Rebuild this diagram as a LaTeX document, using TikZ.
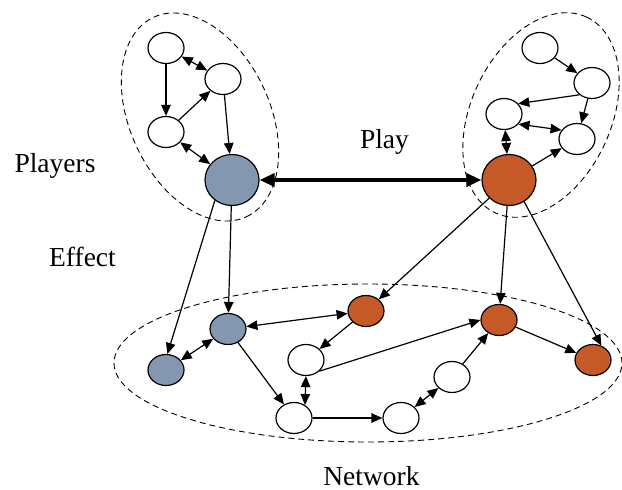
\documentclass[tikz,border=0pt]{standalone}
\usepackage{fontspec}
\setmainfont{Liberation Serif}
\usetikzlibrary{positioning, shapes.geometric, arrows.meta}
\tikzset{
    Agent/.style = {ellipse, draw, line width=1.2pt, fill=white,
        minimum width=36pt, minimum height=31pt, inner sep=0pt},
    Player/.style = {Agent, minimum width=54pt, minimum height=51pt},
    Group/.style = {ellipse, draw, line width=0.9pt,
        dash pattern=on 6pt off 4pt, inner sep=0pt},
    Arrow/.style = {line width=1.2pt, -{Triangle[length=11pt, width=9.5pt]}},
    Both/.style = {Arrow,
        {Triangle[length=11pt, width=9.5pt]}-{Triangle[length=11pt, width=9.5pt]}},
    PlayArrow/.style = {line width=3.5pt,
        {Triangle[length=15pt, width=13pt]}-{Triangle[length=15pt, width=13pt]}},
    Label/.style = {font=\fontsize{27.5pt}{33pt}\selectfont, anchor=base, inner sep=0pt}
}
\definecolor{bFill}{HTML}{8497B0}
\definecolor{oFill}{HTML}{C55A28}

\begin{document}
\begin{tikzpicture}[x=1pt, y=-1pt, on grid]
    \useasboundingbox (0,0) rectangle (622,490);
    % dashed groups
    \node [Group, minimum width=220pt, minimum height=140pt, rotate=-65] (GL) at (200,117) {};
    \node [Group, minimum width=216pt, minimum height=140pt, rotate=65] (GR) at (541,115) {};
    \node [Group, minimum width=508pt, minimum height=158pt] (GN) at (368,363) {};
    % players
    \node [Player, fill=bFill] (B1) at (232,180) {};
    \node [Agent, above left=48pt and 66pt of B1] (L3) {};
    \node [Agent, above=84pt of L3] (L1) {};
    \node [Agent, below right=31pt and 57pt of L1] (L2) {};
    \node [Player, fill=oFill, right=277pt of B1] (B2) {};
    \node [Agent, above left=66pt and 5pt of B2] (R3) {};
    \node [Agent, below right=25pt and 73pt of R3] (R4) {};
    \node [Agent, above right=56pt and 15pt of R4] (R2) {};
    \node [Agent, above left=35pt and 52pt of R2] (R1) {};
    % network
    \node [Agent, fill=bFill, below left=149pt and 4pt of B1] (Nb1) {};
    \node [Agent, fill=bFill, below left=41pt and 62pt of Nb1] (Nb2) {};
    \node [Agent, fill=oFill, above right=18pt and 138pt of Nb1] (O1) {};
    \node [Agent, below left=49pt and 60pt of O1] (W1) {};
    \node [Agent, below left=58pt and 12pt of W1] (W2) {};
    \node [Agent, right=107pt of W2] (W4) {};
    \node [Agent, above right=41pt and 51pt of W4] (W3) {};
    \node [Agent, fill=oFill, above right=57pt and 47pt of W3] (O2) {};
    \node [Agent, fill=oFill, below right=40pt and 94pt of O2] (O3) {};
    % labels
    \node [Label] (Pl) at (55,172) {Players};
    \node [Label] (Ef) at (82.5,266) {Effect};
    \node [Label] (Py) at (384.5,148) {Play};
    \node [Label] (Nw) at (371.5,485) {Network};
    % edges
    \draw [Arrow] (L1) -- (L3);
    \draw [Both] (L1) -- (L2);
    \draw [Arrow] (L3) -- (L2);
    \draw [Arrow] (L2) -- (B1);
    \draw [Both] (L3) -- (B1);
    \draw [Arrow] (R1) -- (R2);
    \draw [Arrow] (R2.223) -- (R3.36);
    \draw [Arrow] (R2) -- (R4);
    \draw [Both] (R3.-35) -- (R4.150);
    \draw [Both] (R3) -- (B2);
    \draw [Arrow] (B2) -- (R4);
    \draw [PlayArrow] (B1) -- (B2);
    \draw [Arrow] (B1.230) -- (Nb2.85);
    \draw [Arrow] (B1) -- (Nb1);
    \draw [Both] (Nb1) -- (Nb2);
    \draw [Both] (Nb1) -- (O1);
    \draw [Arrow] (Nb1) -- (W2);
    \draw [Arrow] (O1) -- (W1);
    \draw [Arrow] (W1.-40) -- (O2.west);
    \draw [Both] (W1.south) -- (W2.50);
    \draw [Arrow] (W2) -- (W4);
    \draw [Both] (W4) -- (W3);
    \draw [Arrow] (W3) -- (O2);
    \draw [Arrow] (O2) -- (O3);
    \draw [Arrow] (B2) -- (O1);
    \draw [Arrow] (B2) -- (O2);
    \draw [Arrow] (B2.-55) -- (O3.60);
\end{tikzpicture}
\end{document}
